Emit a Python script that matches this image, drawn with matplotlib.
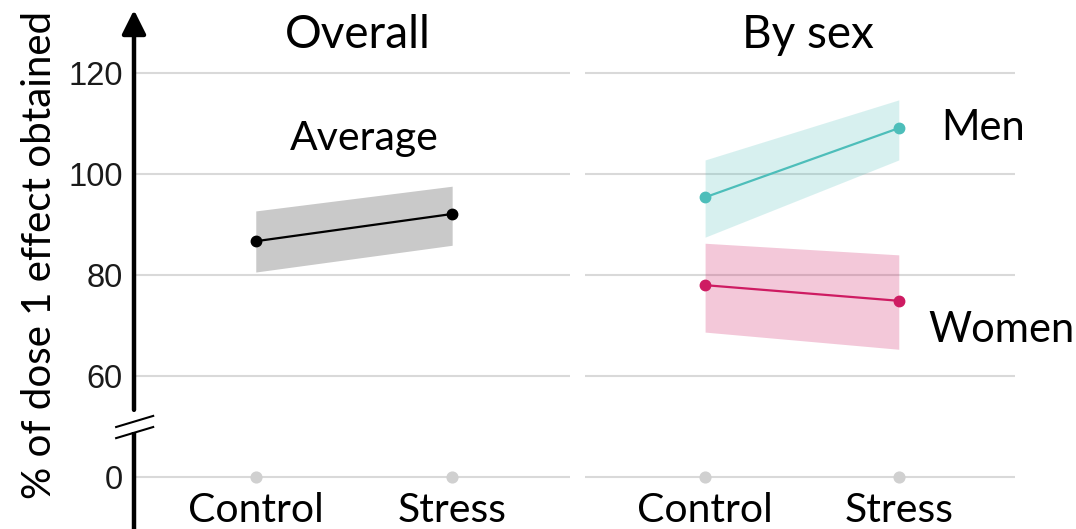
import numpy as np
import matplotlib
matplotlib.use("Agg")
import matplotlib.pyplot as plt

# data
conditions = ["Control", "Stress"]
overall_mean = [86.7, 92.1]
overall_lo = [80.6, 85.9]
overall_hi = [92.7, 97.6]

men_mean = [95.4, 109.1]
men_lo = [87.5, 102.8]
men_hi = [102.8, 114.7]

women_mean = [78.0, 74.9]
women_lo = [68.7, 65.3]
women_hi = [86.3, 84.0]

zero_row = [0, 0]
ytick_values = [0, 60, 80, 100, 120]

# axis break: values below 60 are pulled up so 0 sits one step under 60
def pos(v):
    v = np.asarray(v, dtype=float)
    return np.where(v >= 60, v, v + 40)

TEAL = "#4dbeba"
MAGENTA = "#ce1b62"
GRID = "#d9d9d9"
SANS = ["Lato", "DejaVu Sans"]
YMIN, YMAX = 29.7, 132.5
XMIN, XMAX = -0.62, 1.60

fig = plt.figure(figsize=(10.76, 5.29), dpi=100)
axL = fig.add_axes([134 / 1076, 0, 436 / 1076, 519 / 529])
axR = fig.add_axes([585 / 1076, 0, 430 / 1076, 519 / 529])

x = np.arange(len(conditions))

for ax in (axL, axR):
    ax.set_xlim(XMIN, XMAX)
    ax.set_ylim(YMIN, YMAX)
    for s in ax.spines.values():
        s.set_visible(False)
    ax.set_yticks(pos(ytick_values))
    ax.grid(axis="y", color=GRID, lw=1.5, zorder=0)
    ax.set_axisbelow(True)
    ax.set_xticks(x)
    ax.set_xticklabels(conditions, fontsize=29.5, family=SANS)
    ax.tick_params(axis="x", length=0, pad=-27)
    ax.tick_params(axis="y", length=0)
    ax.scatter(x, pos(zero_row), s=60, color="#d0d0d0", zorder=2, clip_on=False)

axL.set_yticklabels([str(v) for v in ytick_values], fontsize=23.5,
                    family="Liberation Sans", color="#1a1a1a")
axL.tick_params(axis="y", pad=8)
axR.set_yticklabels([])

# left axis line with break and arrow
tr = axL.get_yaxis_transform()
axL.plot([0, 0], [YMIN, 49.0], color="black", lw=3.2, transform=tr,
         clip_on=False, solid_capstyle="butt", zorder=5)
axL.annotate("", xy=(0, YMAX), xytext=(0, 53.3), xycoords=tr, textcoords=tr,
             arrowprops=dict(arrowstyle="-|>,head_length=0.72,head_width=0.36",
                             mutation_scale=20, lw=3.2, color="black",
                             shrinkA=0, shrinkB=0), annotation_clip=False)
for y0, y1 in [(49.9, 52.1), (47.7, 49.9)]:
    axL.plot([-0.041, 0.044], [y0, y1], color="black", lw=1.5, transform=tr,
             clip_on=False, zorder=6)

# overall panel
axL.fill_between(x, overall_lo, overall_hi, color="#c9c9c9", lw=0, zorder=1)
axL.plot(x, overall_mean, color="black", lw=1.6, marker="o", ms=7.5, zorder=3)
axL.text(0.553, 107.1, "Average", fontsize=29.5, family=SANS, ha="center", va="center")

# by-sex panel
axR.fill_between(x, men_lo, men_hi, color=TEAL, alpha=0.22, lw=0, zorder=1)
axR.fill_between(x, women_lo, women_hi, color=MAGENTA, alpha=0.24, lw=0, zorder=1)
axR.plot(x, men_mean, color=TEAL, lw=1.6, marker="o", ms=7.5, zorder=3)
axR.plot(x, women_mean, color=MAGENTA, lw=1.6, marker="o", ms=7.5, zorder=3)
axR.text(1.436, 109.1, "Men", fontsize=30, family=SANS, ha="center", va="center")
axR.text(1.528, 69.1, "Women", fontsize=30, family=SANS, ha="center", va="center",
         clip_on=False)

fig.text(358 / 1076, 1 - 35 / 529, "Overall", fontsize=33, family=SANS,
         ha="center", va="center")
fig.text(808 / 1076, 1 - 35 / 529, "By sex", fontsize=33, family=SANS,
         ha="center", va="center")
fig.text(40 / 1076, 1 - 255 / 529, "% of dose 1 effect obtained", fontsize=29,
         family=SANS, rotation=90, ha="center", va="center")

fig.savefig("out.png", dpi=100)
